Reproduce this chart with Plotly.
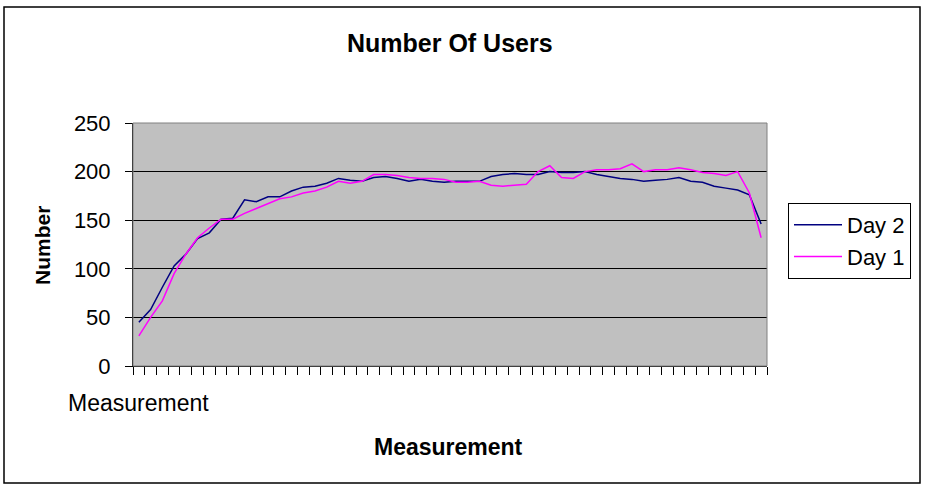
import plotly.graph_objects as go

# ---- data ----
measurement = list(range(54))
category_label = "Measurement"
day2 = [45, 58, 81, 103, 115, 131, 137, 151, 152, 171,
        169, 174, 174, 180, 184, 185, 188, 193, 191, 190,
        194, 195, 193, 190, 192, 190, 189, 190, 190, 190,
        195, 197, 198, 197, 197, 200, 199, 199, 200, 197,
        195, 193, 192, 190, 191, 192, 194, 190, 189, 185,
        183, 181, 176, 146]
day1 = [31, 50, 67, 95, 115, 132, 142, 151, 151, 157,
        162, 167, 172, 174, 178, 180, 184, 190, 188, 190,
        197, 197, 196, 194, 193, 193, 192, 189, 189, 190,
        186, 185, 186, 187, 200, 206, 194, 193, 200, 202,
        202, 203, 208, 200, 202, 202, 204, 202, 199, 198,
        196, 200, 178, 132]
y_ticks = [0, 50, 100, 150, 200, 250]

FONT = "Arial, Liberation Sans, sans-serif"

# plot area in window coords is x 133..767, y 123..366
PX0, PX1, PY0, PY1 = 133, 767, 123, 366


def px(x):
    return (x - PX0) / (PX1 - PX0)


def py(y):
    return (PY1 - y) / (PY1 - PY0)


fig = go.Figure()
fig.add_trace(go.Scatter(x=measurement, y=day2, mode="lines", name="Day 2",
                         line=dict(color="#000080", width=1.5)))
fig.add_trace(go.Scatter(x=measurement, y=day1, mode="lines", name="Day 1",
                         line=dict(color="#FF00FF", width=1.5)))

n = len(measurement)
boundaries = [i - 0.5 for i in range(n + 1)]

fig.update_layout(
    width=928, height=487,
    margin=dict(l=PX0, r=928 - PX1, t=PY0, b=487 - PY1),
    paper_bgcolor="white",
    plot_bgcolor="#C0C0C0",
    font=dict(family=FONT, color="black"),
    showlegend=True,
    legend=dict(x=px(788), y=py(203), xanchor="left", yanchor="top",
                bordercolor="black", borderwidth=1, bgcolor="white",
                font=dict(size=22, family=FONT), itemwidth=48,
                tracegroupgap=0),
    xaxis=dict(range=[-0.5, n - 0.5], tickvals=boundaries, ticktext=[""] * len(boundaries),
               ticks="outside", ticklen=8, tickwidth=1, tickcolor="black",
               showline=True, linecolor="black", linewidth=1,
               showgrid=False, zeroline=False, fixedrange=True),
    yaxis=dict(range=[0, 250], tickvals=y_ticks,
               ticks="outside", ticklen=7, tickwidth=1, tickcolor="black",
               tickfont=dict(size=22, family=FONT), ticklabelstandoff=10,
               showline=True, linecolor="black", linewidth=1,
               showgrid=True, gridcolor="black", gridwidth=1.2,
               zeroline=False, fixedrange=True),
    shapes=[
        # plot-area border (grey, like Excel)
        dict(type="rect", xref="paper", yref="paper", x0=0, x1=1, y0=0, y1=1,
             line=dict(color="#808080", width=1), layer="above"),
        # outer chart frame
        dict(type="rect", xref="paper", yref="paper",
             x0=px(4), x1=px(920), y0=py(483), y1=py(7),
             line=dict(color="black", width=1.5)),
    ],
    annotations=[
        dict(text="<b>Number Of Users</b>", xref="paper", yref="paper",
             x=px(450), y=py(43), showarrow=False,
             xanchor="center", yanchor="middle", font=dict(size=25, family=FONT)),
        dict(text="<b>Number</b>", xref="paper", yref="paper",
             x=px(42), y=py(246), showarrow=False,
             textangle=-90, xanchor="center", yanchor="middle",
             font=dict(size=21, family=FONT)),
        dict(text="<b>Measurement</b>", xref="paper", yref="paper",
             x=px(448), y=py(447), showarrow=False,
             xanchor="center", yanchor="middle", font=dict(size=23, family=FONT)),
        dict(text=category_label, xref="x", yref="paper",
             x=measurement[0], y=py(403), showarrow=False,
             xanchor="center", yanchor="middle", font=dict(size=23, family=FONT)),
    ],
)

fig.write_html("out.html", config={"displayModeBar": False},
               post_script="document.body.style.margin='0';document.body.style.overflow='hidden';")
